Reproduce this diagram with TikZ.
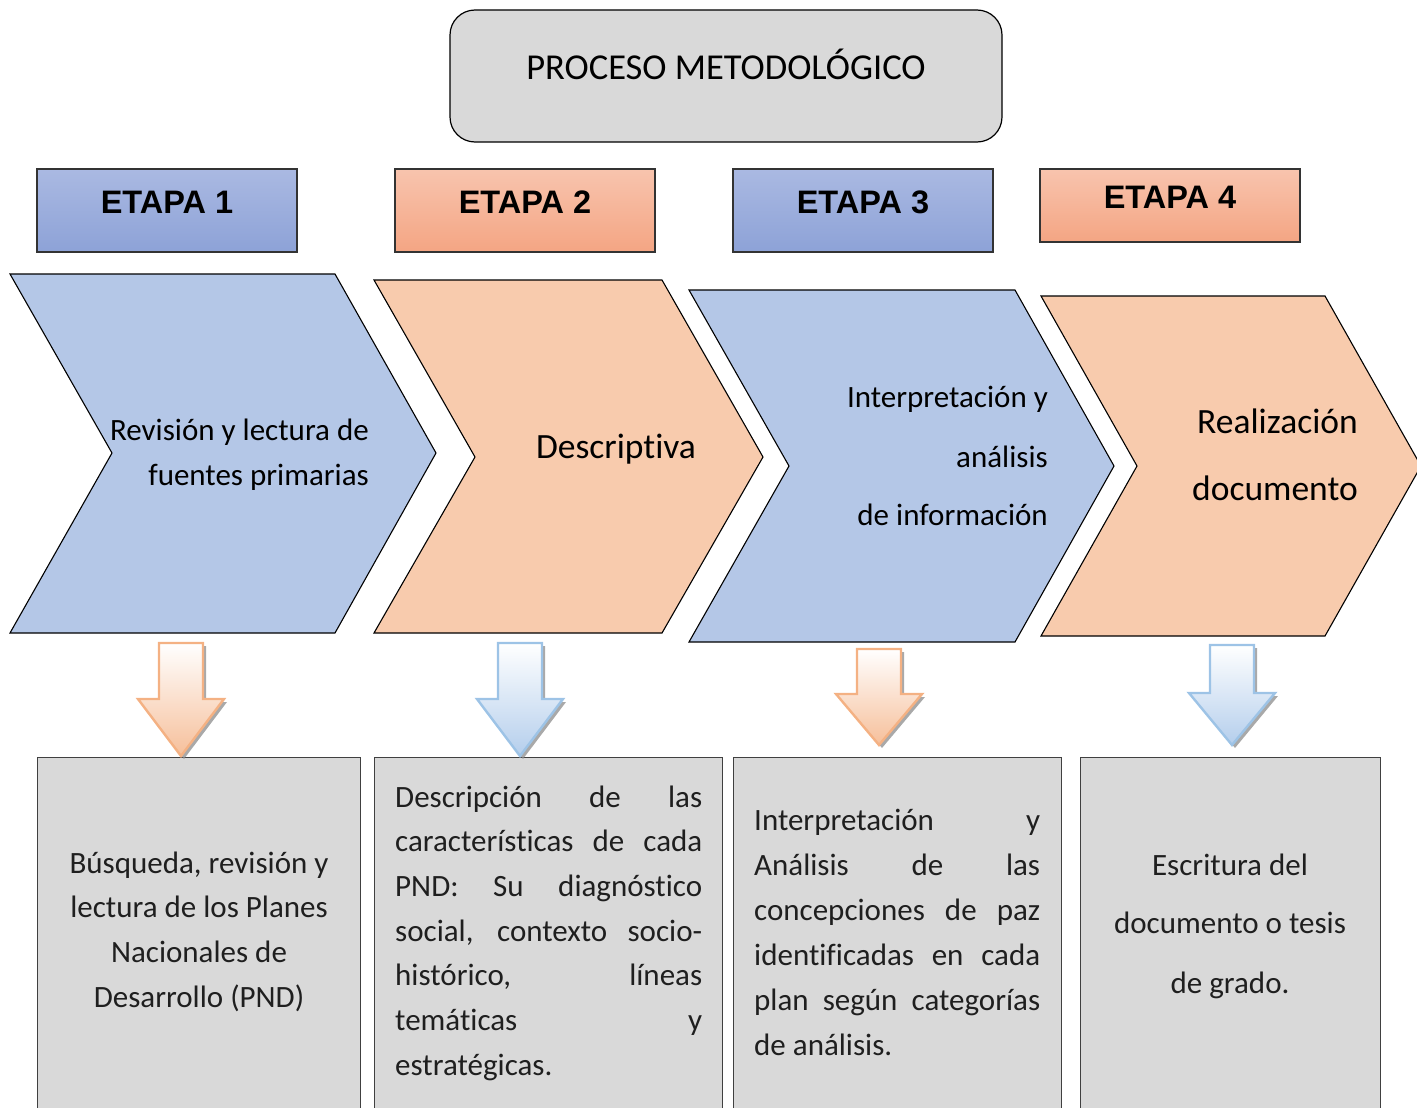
\documentclass[tikz,border=0pt]{standalone}
\usepackage{fontspec}
\setmainfont{Carlito}[Ligatures=NoCommon]
\newfontfamily\arialfont{Liberation Sans}
\definecolor{chevblue}{HTML}{B4C7E7}
\definecolor{chevorange}{HTML}{F8CBAD}
\definecolor{etbluetop}{HTML}{AAB9E2}
\definecolor{etbluebot}{HTML}{8DA2D7}
\definecolor{etortop}{HTML}{F8C4AE}
\definecolor{etorbot}{HTML}{F4A583}
\definecolor{boxgray}{HTML}{D9D9D9}
\definecolor{arrorline}{HTML}{F4B183}
\definecolor{arrorfill}{HTML}{F6BF9A}
\definecolor{arrblline}{HTML}{9DC3E6}
\definecolor{arrblfill}{HTML}{B4CEEC}
\definecolor{bodytext}{HTML}{1F1F1F}
\newcommand\dnarrow[7]{% cx, top, head, tip, name, line, fill
  \fill[black!45, opacity=0.75] (#1-22+3,#2+3) -- (#1+22+3,#2+3) -- (#1+22+3,#3+3) -- (#1+43+3,#3+3) -- (#1+3,#4+3) -- (#1-43+3,#3+3) -- (#1-22+3,#3+3) -- cycle;
  \draw[line width=2.4pt, draw=#6, top color=white, bottom color=#7, line join=miter]
    (#1-22,#2) coordinate (#5) -- (#1+22,#2) -- (#1+22,#3) -- (#1+43,#3) -- (#1,#4) coordinate (#5tip) -- (#1-43,#3) -- (#1-22,#3) -- cycle;
}
\begin{document}
\begin{tikzpicture}[x=1pt,y=-1pt,
  chev/.style={draw=black, line width=1.1pt, line join=miter},
  titlebox/.style={draw=black, line width=1.2pt, fill=boxgray, rounded corners=25pt,
    minimum width=552pt, minimum height=132pt, inner sep=0pt,
    font=\fontsize{36.5}{42}\selectfont, text height=26pt, text depth=18pt},
  etapa/.style={draw=black!80, line width=1.3pt, minimum width=260pt, minimum height=83pt,
    inner sep=0pt, font=\arialfont\bfseries\fontsize{32.5}{38}\selectfont,
    text height=21pt, text depth=16pt},
  etblue/.style={top color=etbluetop, bottom color=etbluebot},
  etorange/.style={top color=etortop, bottom color=etorbot},
  graybox/.style={draw=black!75, line width=1.2pt, fill=boxgray, anchor=north west, inner sep=0pt},
  chevtext/.style={inner sep=0pt, font=\fontsize{31}{40}\selectfont},
  bigtext/.style={inner sep=0pt, font=\fontsize{35.5}{44}\selectfont},
  bodyline/.style={inner sep=0pt, text=bodytext, font=\fontsize{31}{40}\selectfont}
]
\useasboundingbox (0,0) rectangle (1417,1108);
\clip (0,0) rectangle (1417,1108);

% title
\node[titlebox] (title) at (726,76) {PROCESO METODOLÓGICO};

% stage labels
\node[etapa, etblue]   (e1) at (167,210.5) {ETAPA 1};
\node[etapa, etorange] (e2) at (525,210.5) {ETAPA 2};
\node[etapa, etblue]   (e3) at (863,210.5) {ETAPA 3};
\node[etapa, etorange, minimum height=73pt] (e4) at (1170,205.5) {ETAPA 4};

% chevrons
\filldraw[chev, fill=chevblue]   (10,274) -- (335,274) -- (436,453) -- (335,633) -- (10,633) -- (112,453) -- cycle;
\filldraw[chev, fill=chevorange] (374,280) -- (662,280) -- (763,457) -- (662,633) -- (374,633) -- (475,457) -- cycle;
\filldraw[chev, fill=chevblue]   (689,290) -- (1015,290) -- (1114,466) -- (1015,642) -- (689,642) -- (789,466) -- cycle;
\filldraw[chev, fill=chevorange] (1041,296) -- (1325,296) -- (1421,466) -- (1325,636) -- (1041,636) -- (1137,466) -- cycle;

% chevron texts
\node[chevtext, anchor=base east] (c1a) at (369,440) {Revisión y lectura de};
\node[chevtext, anchor=base east] (c1b) at (369,485) {fuentes primarias};
\node[bigtext, anchor=base] (c2) at (616,458) {Descriptiva};
\node[chevtext, anchor=base east] (c3a) at (1048,407) {Interpretación y};
\node[chevtext, anchor=base east] (c3b) at (1048,467) {análisis};
\node[chevtext, anchor=base east] (c3c) at (1048,525) {de información};
\node[bigtext, anchor=base east] (c4a) at (1358,433) {Realización};
\node[bigtext, anchor=base east] (c4b) at (1358,500) {documento};

% bottom boxes
\node[graybox, minimum width=323pt, minimum height=370pt] (b1) at (37,757) {};
\node[graybox, minimum width=348pt, minimum height=370pt] (b2) at (374,757) {};
\node[graybox, minimum width=328pt, minimum height=370pt] (b3) at (733,757) {};
\node[graybox, minimum width=300pt, minimum height=370pt] (b4) at (1080,757) {};

% down arrows
\dnarrow{181}{643}{699}{756}{a1}{arrorline}{arrorfill}
\dnarrow{520}{643}{699}{756}{a2}{arrblline}{arrblfill}
\dnarrow{879}{649}{694}{745}{a3}{arrorline}{arrorfill}
\dnarrow{1232}{645}{693}{745}{a4}{arrblline}{arrblfill}

% box 1 text
\foreach \t [count=\i] in {{Búsqueda, revisión y},{lectura de los Planes},{Nacionales de},{Desarrollo (PND)}}
  \node[bodyline, anchor=base] (t1l\i) at (199,{873+(\i-1)*44.7}) {\t};

% box 2 text (justified)
\foreach \t [count=\i] in {{Descripción de las},{características de cada},{PND: Su diagnóstico},{social, contexto socio-},{histórico, líneas},{temáticas y}}
  \node[bodyline, anchor=base west] (t2l\i) at (395,{807+(\i-1)*44.7}) {\makebox[307pt][s]{\t}};
\node[bodyline, anchor=base west] (t2l7) at (395,1075) {estratégicas.};

% box 3 text (justified)
\foreach \t [count=\i] in {{Interpretación y},{Análisis de las},{concepciones de paz},{identificadas en cada},{plan según categorías}}
  \node[bodyline, anchor=base west] (t3l\i) at (754,{830+(\i-1)*45}) {\makebox[286pt][s]{\t}};
\node[bodyline, anchor=base west] (t3l6) at (754,1055) {de análisis.};

% box 4 text
\node[bodyline, anchor=base] (t4l1) at (1230,875) {Escritura del};
\node[bodyline, anchor=base] (t4l2) at (1230,933) {documento o tesis};
\node[bodyline, anchor=base] (t4l3) at (1230,993) {de grado.};
\end{tikzpicture}
\end{document}
